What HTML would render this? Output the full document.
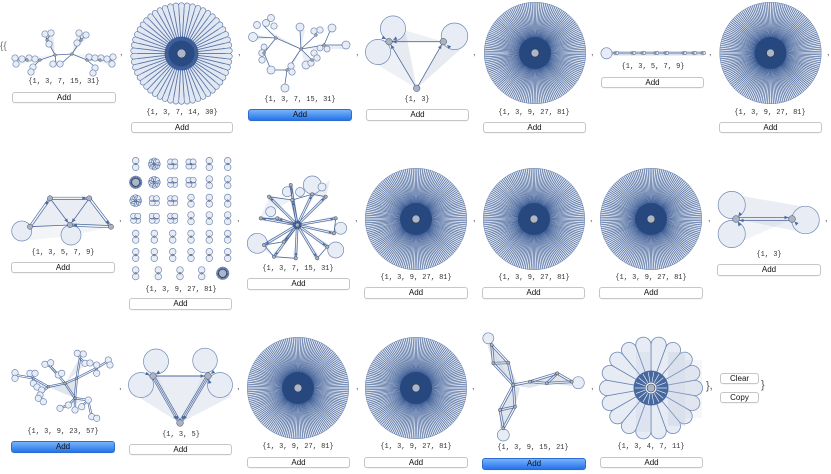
<!DOCTYPE html>
<html><head><meta charset="utf-8">
<style>
html,body{margin:0;padding:0;background:#fff;}
#w{position:relative;width:831px;height:474px;overflow:hidden;font-family:"Liberation Sans",sans-serif;background:#fff;}
svg{position:absolute;left:0;top:0;}
.l{position:absolute;font-family:"Liberation Mono",monospace;font-size:7px;line-height:8px;color:#333;white-space:pre;transform:translateX(-50%);}
.b{position:absolute;box-sizing:border-box;border:1px solid #c6c6c6;border-radius:3px;background:#fff;font-size:8px;text-align:center;color:#111;box-shadow:0 0.5px 0.5px rgba(0,0,0,0.08);}
.b.blue{background:linear-gradient(#78b4fb,#2673ea);border-color:#2d6cd0;}
.c{position:absolute;font-size:9px;line-height:9px;color:#555;}
</style></head><body><div id="w">
<svg id="s" width="831" height="474" viewBox="0 0 831 474"></svg>

<div class="c" style="left:0px;top:42px;font-size:10px;line-height:10px;color:#777;">{{</div>

<div class="c" style="left:120px;top:48px;">,</div>
<div class="c" style="left:238px;top:48px;">,</div>
<div class="c" style="left:356px;top:48px;">,</div>
<div class="c" style="left:473px;top:48px;">,</div>
<div class="c" style="left:591px;top:48px;">,</div>
<div class="c" style="left:709px;top:48px;">,</div>
<div class="c" style="left:827px;top:48px;">,</div>

<div class="c" style="left:119px;top:214px;">,</div>
<div class="c" style="left:237px;top:214px;">,</div>
<div class="c" style="left:355px;top:214px;">,</div>
<div class="c" style="left:473px;top:214px;">,</div>
<div class="c" style="left:590px;top:214px;">,</div>
<div class="c" style="left:708px;top:214px;">,</div>
<div class="c" style="left:825px;top:214px;">,</div>

<div class="c" style="left:119px;top:382px;">,</div>
<div class="c" style="left:237px;top:382px;">,</div>
<div class="c" style="left:356px;top:382px;">,</div>
<div class="c" style="left:472px;top:382px;">,</div>
<div class="c" style="left:591px;top:382px;">,</div>
<div class="c" style="left:706px;top:381px;font-size:11px;line-height:11px;">},</div>
<div class="c" style="left:761px;top:380px;font-size:11px;line-height:11px;">}</div>

<!-- labels row 1 -->
<div class="l" style="left:64px;top:78px;">{1, 3, 7, 15, 31}</div>
<div class="l" style="left:182px;top:109px;">{1, 3, 7, 14, 30}</div>
<div class="l" style="left:300px;top:96px;">{1, 3, 7, 15, 31}</div>
<div class="l" style="left:417px;top:96px;">{1, 3}</div>
<div class="l" style="left:534px;top:109px;">{1, 3, 9, 27, 81}</div>
<div class="l" style="left:653px;top:63px;">{1, 3, 5, 7, 9}</div>
<div class="l" style="left:770px;top:109px;">{1, 3, 9, 27, 81}</div>
<!-- labels row 2 -->
<div class="l" style="left:63px;top:249px;">{1, 3, 5, 7, 9}</div>
<div class="l" style="left:181px;top:286px;">{1, 3, 9, 27, 81}</div>
<div class="l" style="left:298px;top:265px;">{1, 3, 7, 15, 31}</div>
<div class="l" style="left:416px;top:274px;">{1, 3, 9, 27, 81}</div>
<div class="l" style="left:534px;top:274px;">{1, 3, 9, 27, 81}</div>
<div class="l" style="left:651px;top:274px;">{1, 3, 9, 27, 81}</div>
<div class="l" style="left:769px;top:251px;">{1, 3}</div>
<!-- labels row 3 -->
<div class="l" style="left:63px;top:428px;">{1, 3, 9, 23, 57}</div>
<div class="l" style="left:181px;top:431px;">{1, 3, 5}</div>
<div class="l" style="left:298px;top:443px;">{1, 3, 9, 27, 81}</div>
<div class="l" style="left:416px;top:443px;">{1, 3, 9, 27, 81}</div>
<div class="l" style="left:533px;top:444px;">{1, 3, 9, 15, 21}</div>
<div class="l" style="left:651px;top:443px;">{1, 3, 4, 7, 11}</div>

<!-- buttons row 1 -->
<div class="b" style="left:12px;top:92px;width:104px;height:11px;line-height:9px;">Add</div>
<div class="b" style="left:131px;top:122px;width:102px;height:11px;line-height:9px;">Add</div>
<div class="b blue" style="left:248px;top:109px;width:104px;height:12px;line-height:10px;">Add</div>
<div class="b" style="left:366px;top:109px;width:103px;height:12px;line-height:10px;">Add</div>
<div class="b" style="left:483px;top:122px;width:103px;height:11px;line-height:9px;">Add</div>
<div class="b" style="left:601px;top:77px;width:103px;height:11px;line-height:9px;">Add</div>
<div class="b" style="left:719px;top:122px;width:103px;height:11px;line-height:9px;">Add</div>
<!-- buttons row 2 -->
<div class="b" style="left:11px;top:262px;width:104px;height:11px;line-height:9px;">Add</div>
<div class="b" style="left:129px;top:298px;width:103px;height:12px;line-height:10px;">Add</div>
<div class="b" style="left:247px;top:278px;width:103px;height:12px;line-height:10px;">Add</div>
<div class="b" style="left:364px;top:287px;width:104px;height:12px;line-height:10px;">Add</div>
<div class="b" style="left:482px;top:287px;width:103px;height:12px;line-height:10px;">Add</div>
<div class="b" style="left:599px;top:287px;width:104px;height:12px;line-height:10px;">Add</div>
<div class="b" style="left:717px;top:264px;width:104px;height:12px;line-height:10px;">Add</div>
<!-- buttons row 3 -->
<div class="b blue" style="left:11px;top:441px;width:104px;height:12px;line-height:10px;">Add</div>
<div class="b" style="left:129px;top:444px;width:103px;height:11px;line-height:9px;">Add</div>
<div class="b" style="left:247px;top:457px;width:103px;height:11px;line-height:9px;">Add</div>
<div class="b" style="left:364px;top:457px;width:104px;height:11px;line-height:9px;">Add</div>
<div class="b blue" style="left:482px;top:458px;width:104px;height:12px;line-height:10px;">Add</div>
<div class="b" style="left:600px;top:457px;width:103px;height:11px;line-height:9px;">Add</div>
<div class="b" style="left:720px;top:373px;width:39px;height:11px;line-height:9px;">Clear</div>
<div class="b" style="left:720px;top:392px;width:39px;height:11px;line-height:9px;">Copy</div>
</div>
<script>
(function(){
var NS='http://www.w3.org/2000/svg';
var S=document.getElementById('s');
function E(t,a,p){var e=document.createElementNS(NS,t);for(var k in a)e.setAttribute(k,a[k]);(p||S).appendChild(e);return e;}
var EDGE='#4b6a9f',LOOPF='#e8edf5',LOOPS='#7189b5',NODEF='#a7b3c9';
function nd(x,y,r){E('circle',{cx:x,cy:y,r:r||1.8,fill:NODEF,stroke:'#444','stroke-width':0.5});}
function lp(x,y,r){E('circle',{cx:x,cy:y,r:r,fill:LOOPF,stroke:LOOPS,'stroke-width':0.7});}
function ln(x1,y1,x2,y2,w){E('line',{x1:x1,y1:y1,x2:x2,y2:y2,stroke:EDGE,'stroke-width':w||0.8});}
function dl(x1,y1,x2,y2,o){o=o||1.1;var dx=x2-x1,dy=y2-y1,L=Math.hypot(dx,dy),px=-dy/L*o,py=dx/L*o;ln(x1+px,y1+py,x2+px,y2+py,0.7);ln(x1-px,y1-py,x2-px,y2-py,0.7);}
function fan(pts,o){E('polygon',{points:pts.map(function(p){return p.join(',');}).join(' '),fill:'#b9c4d7','fill-opacity':o||0.3});}
function arr(x1,y1,x2,y2,rr,s){var dx=x2-x1,dy=y2-y1,L=Math.hypot(dx,dy),ux=dx/L,uy=dy/L;s=s||4;var w=s*0.45;
 var tx=x2-ux*rr,ty=y2-uy*rr,bx=tx-ux*s,by=ty-uy*s;
 E('polygon',{points:tx+','+ty+' '+(bx-uy*w)+','+(by+ux*w)+' '+(bx+uy*w)+','+(by-ux*w),fill:EDGE});}
function dense(cx,cy,R,N,ir,nr,lw,bg){
 N=N||162;ir=ir||16;nr=nr||4;lw=lw||0.6;bg=bg||'#dce3ee';
 E('circle',{cx:cx,cy:cy,r:R,fill:bg});
 var d='';
 for(var i=0;i<N;i++){var a=i*2*Math.PI/N;d+='M'+cx+','+cy+'L'+(cx+R*Math.cos(a)).toFixed(2)+','+(cy+R*Math.sin(a)).toFixed(2);}
 E('path',{d:d,stroke:'#3b5b94','stroke-width':lw,fill:'none'});
 E('circle',{cx:cx,cy:cy,r:R-0.3,fill:'none',stroke:'#6f88b5','stroke-width':0.5});
 E('circle',{cx:cx,cy:cy,r:ir,fill:'#27487f'});
 if(nr>0)E('circle',{cx:cx,cy:cy,r:nr,fill:'#aab6cc',stroke:'#333','stroke-width':0.6});
}
function petals(cx,cy,R,N,off,fill,stroke,sw){
 var a=Math.PI/N,sa=Math.sin(a),rt=R*sa/(1+sa),Rm=R-rt,beta=Math.asin(rt/Rm),L=Math.sqrt(Rm*Rm-rt*rt);
 for(var i=0;i<N;i++){var th=i*2*Math.PI/N+off;
  var x1=cx+L*Math.cos(th-beta),y1=cy+L*Math.sin(th-beta),x2=cx+L*Math.cos(th+beta),y2=cy+L*Math.sin(th+beta);
  E('path',{d:'M'+cx+','+cy+'L'+x1.toFixed(2)+','+y1.toFixed(2)+'A'+rt.toFixed(2)+','+rt.toFixed(2)+' 0 1 1 '+x2.toFixed(2)+','+y2.toFixed(2)+'Z',fill:fill,stroke:stroke,'stroke-width':sw});
 }
}

/* ---------- dense circles ---------- */
[[535,53],[770.5,53],[416,219],[534,219],[651,219],[298,388],[416,388]].forEach(function(c){dense(c[0],c[1],51);});

/* ---------- R1C2 flower ---------- */
(function(){var cx=181.5,cy=53.5;
 petals(cx,cy,51,54,-Math.PI/2,'#e2e8f2','#5672a6',0.6);
 var d='';for(var i=0;i<54;i++){var a=(i+0.5)*2*Math.PI/54-Math.PI/2;d+='M'+cx+','+cy+'L'+(cx+44*Math.cos(a)).toFixed(2)+','+(cy+44*Math.sin(a)).toFixed(2);}
 E('path',{d:d,stroke:'#5b77aa','stroke-width':0.9,fill:'none','stroke-opacity':0.8});
 E('circle',{cx:cx,cy:cy,r:17,fill:'#3f5f98'});
 E('circle',{cx:cx,cy:cy,r:13,fill:'#2a4a84'});
 E('circle',{cx:cx,cy:cy,r:4.5,fill:'#aab6cc',stroke:'#333','stroke-width':0.6});
})();

/* ---------- R3C6 daisy ---------- */
(function(){var cx=651,cy=388;
 petals(cx,cy,51.5,18,-Math.PI/2+Math.PI/18,'#e7ecf4','#6a85b4',0.8);
 E('rect',{x:636,y:352,width:14,height:80,fill:'#b9c4d7','fill-opacity':0.18});
 E('rect',{x:668,y:352,width:17,height:74,fill:'#b9c4d7','fill-opacity':0.28});
 E('rect',{x:685,y:360,width:17,height:58,fill:'#b9c4d7','fill-opacity':0.15});
 E('circle',{cx:cx,cy:cy,r:17.5,fill:'#47679f'});
 var d='';for(var i=0;i<18;i++){var a=i*2*Math.PI/18-Math.PI/2+Math.PI/18;d+='M'+(cx+6*Math.cos(a)).toFixed(2)+','+(cy+6*Math.sin(a)).toFixed(2)+'L'+(cx+16*Math.cos(a)).toFixed(2)+','+(cy+16*Math.sin(a)).toFixed(2);}
 E('path',{d:d,stroke:'#e8edf5','stroke-width':0.7,fill:'none'});
 E('circle',{cx:cx,cy:cy,r:5.5,fill:'#f2f5fa'});
 E('circle',{cx:cx,cy:cy,r:4,fill:'#aab6cc',stroke:'#333','stroke-width':0.6});
})();

/* ---------- R1C1 tree ---------- */
(function(){
 fan([[55,55],[43,34],[53,32]],0.4);fan([[72,54],[77,33],[89,35]],0.4);
 fan([[55,55],[14,58],[16,66]],0.2);fan([[72,54],[113,56],[112,66]],0.2);
 ln(55,55,72,54);ln(55,55,47,40);ln(72,54,81,40);ln(55,55,40,60);ln(40,60,27,60);ln(27,60,17,60);
 ln(72,54,87,60);ln(87,60,100,60);ln(100,60,112,60);ln(55,55,56,63);ln(72,54,62,63);ln(40,60,33,67);ln(87,60,95,67);
 ln(47,40,45,34);ln(47,40,51,33);ln(81,40,79,33);ln(81,40,86,35);
 [[15,58],[16,64],[22,59],[29,58],[35,59],[33,67],[31,72],[53,64],[60,64],[45,34],[51,33],[49,44],[79,33],[86,35],[77,43],
  [89,57],[95,58],[101,58],[107,59],[113,57],[112,64],[95,68],[93,73]].forEach(function(p){lp(p[0],p[1],3.2);});
 [[55,55],[72,54],[47,40],[81,40],[40,60],[27,60],[87,60],[100,60]].forEach(function(p){nd(p[0],p[1],1.3);});
})();

/* ---------- R1C3 tree ---------- */
(function(){
 var H=[301,49],A=[276,38],B=[324,45],F=[287,70],G=[271,70],I=[264,53],Ep=[312,60],C=[316,35],D=[300,30];
 fan([H,A,[268,30]],0.3);fan([H,B,[346,44],[345,49]],0.3);fan([H,Ep,[305,66]],0.3);fan([H,F,[290,72]],0.3);fan([H,D,[305,30]],0.3);
 fan([A,[253,34],[255,40]],0.3);
 [A,B,F,Ep,C,D].forEach(function(p){ln(H[0],H[1],p[0],p[1]);});
 ln(F[0],F[1],G[0],G[1]);ln(G[0],G[1],I[0],I[1]);ln(I[0],I[1],A[0],A[1]);ln(F[0],F[1],285,84);
 ln(A[0],A[1],257,37);ln(A[0],A[1],264,26);ln(B[0],B[1],342,45);ln(B[0],B[1],330,31);
 [[257,25,3.5],[266,23,3.5],[271,18,3.5],[274,26,3.2],[253,37,4.5],[262,53,3.3],[264,47,3],[262,60,3.2],[271,70,4],
  [300,27,4],[314,31,3.2],[320,30,3.2],[332,28,4],[346,45,4],[320,48,3],[327,49,3],
  [314,53,3.2],[317,58,3.2],[306,65,4],[311,63,3.2],[291,66,3.2],[292,72,3.2],[285,88,4]].forEach(function(p){lp(p[0],p[1],p[2]);});
 [H,A,B,F,I,Ep,C].forEach(function(p){nd(p[0],p[1],1.3);});
})();

/* ---------- R1C4 ---------- */
(function(){
 var L=[389,41.7],R=[443.3,41.7],B=[416.7,88.3];
 fan([B,L,[406,34]],0.35);fan([B,R,[462,48]],0.35);fan([L,R,[404,30]],0.25);fan([[366,58],L,B],0.25);
 lp(393,28.5,12.6);lp(378,52,12.6);lp(454.5,36.3,13.3);
 ln(B[0],B[1],L[0],L[1]);arr(B[0],B[1],L[0],L[1],3.5);
 ln(B[0],B[1],R[0],R[1]);arr(B[0],B[1],R[0],R[1],3.5);
 ln(R[0],R[1],L[0],L[1]);arr(R[0],R[1],L[0],L[1],3.5);
 arr(380,36,L[0],L[1]-1,3.5);arr(404,34,L[0]+1,L[1],3.5);arr(455,52,R[0]+1,R[1]+1,3.5);
 nd(L[0],L[1],3.3);nd(R[0],R[1],3.3);nd(B[0],B[1],3.3);
})();

/* ---------- R1C6 line graph ---------- */
(function(){
 E('rect',{x:611,y:51,width:93,height:4.5,fill:'#c9d3e4','fill-opacity':0.8});
 ln(606,53,704,53,0.8);
 lp(606.5,53.3,5.6);
 [615,632,642,655,665,683,693,702].forEach(function(x,i){lp(x+2,53,1.6);nd(x,53,1.2);});
})();

/* ---------- R2C1 ---------- */
(function(){
 var a=[30,226.7],b=[50,198.3],c=[89.3,198.3],d=[70,225],e=[111,226.7];
 fan([a,b,c,e,d],0.3);fan([a,[22,241],[70,236],e],0.18);
 lp(21.7,231,10);lp(71,235,10);
 dl(a[0],a[1],b[0],b[1]);dl(b[0],b[1],c[0],c[1]);dl(c[0],c[1],e[0],e[1]);dl(d[0],d[1],e[0],e[1]);
 ln(b[0],b[1],d[0],d[1]);ln(c[0],c[1],d[0],d[1]);ln(a[0],a[1],d[0],d[1]);
 arr(a[0],a[1],b[0],b[1],3);arr(b[0],b[1],c[0],c[1],3);arr(c[0],c[1],e[0],e[1],3);arr(e[0],e[1],d[0],d[1],3);arr(b[0],b[1],d[0],d[1],3);arr(c[0],c[1],d[0],d[1],3);
 [a,b,c,d,e].forEach(function(p){nd(p[0],p[1],2.6);});
})();

/* ---------- R2C2 grid ---------- */
(function(){
 var xs=[135.7,154.3,172.7,191,209.3,227.7],ys=[164,182.3,200.7,218.3,236.7,255];
 var T=[['8','f','c','c','8','8'],['d','f','c','c','8','8'],['f','c','c','8','8','8'],['c','c','c','8','8','8'],['8','8','8','8','8','8'],['8','8','8','8','8','8']];
 function fig8(x,y){lp(x,y-3.3,3.3);lp(x,y+3.3,3.3);nd(x,y,0.9);}
 function clover(x,y){for(var k=0;k<4;k++){var a=Math.PI/4+k*Math.PI/2;lp(x+3*Math.cos(a),y+3*Math.sin(a),3);}ln(x-4,y,x+4,y,0.6);nd(x,y,0.9);}
 function flower(x,y){for(var k=0;k<8;k++){var a=k*Math.PI/4;lp(x+3*Math.cos(a),y+3*Math.sin(a),3);}
   for(var k=0;k<8;k++){var a=k*Math.PI/4+Math.PI/8;ln(x,y,x+5.5*Math.cos(a),y+5.5*Math.sin(a),0.6);}nd(x,y,0.9);}
 function dd(x,y){dense(x,y,6.5,40,2.5,0,0.6);}
 for(var r=0;r<6;r++)for(var c=0;c<6;c++){var t=T[r][c],x=xs[c],y=ys[r];
  if(t=='8')fig8(x,y);else if(t=='c')clover(x,y);else if(t=='f')flower(x,y);else dd(x,y);}
 [135.7,158.3,180,201.7].forEach(function(x){fig8(x,273.3);});
 dd(222.7,273.3);
})();

/* ---------- R2C3 ---------- */
(function(){
 var H=[297.3,225];
 var N=[[292.3,200],[312.3,194.3],[269,196.7],[277.3,218.3],[260.7,218.3],[325.7,196.7],[335.7,218.3],[334,233.3],[327.3,246.7],[317.3,258.3],[295.7,258.3],[274,256.7],[264,245],[284,241.7],[290.7,185]];
 fan([[260,218],[270,196],[292,200]],0.25);fan([[264,245],[250,240],[274,257]],0.3);fan([[312,194],[330,180],[326,197]],0.3);
 N.forEach(function(p){var dx=p[0]-H[0],dy=p[1]-H[1],L=Math.hypot(dx,dy),px=-dy/L*2.6,py=dx/L*2.6;
   fan([H,[p[0]+px,p[1]+py],[p[0]-px,p[1]-py]],0.35);});
 lp(312.3,185,9);lp(257.3,243.3,10);lp(335.7,250,8);lp(340.7,228.3,6);lp(270.7,211.7,5);lp(287.3,191.7,5);lp(300,192,4.5);lp(322,187,4);
 N.forEach(function(p){dl(H[0],H[1],p[0],p[1],0.9);});
 ln(269,196.7,292.3,200);ln(292.3,200,312.3,194.3);ln(312.3,194.3,325.7,196.7);ln(260.7,218.3,277.3,218.3);ln(335.7,218.3,334,233.3);ln(327.3,246.7,317.3,258.3);ln(295.7,258.3,274,256.7);ln(274,256.7,264,245);ln(284,241.7,264,245);ln(290.7,185,292.3,200);
 N.forEach(function(p){arr(H[0],H[1],p[0],p[1],2.2,3);});
 E('circle',{cx:H[0],cy:H[1],r:4.5,fill:'#2f5190','fill-opacity':0.75});
 N.forEach(function(p){nd(p[0],p[1],1.7);});nd(H[0],H[1],2);
})();

/* ---------- R2C7 ---------- */
(function(){
 var L=[736,219],R=[792,219];
 fan([L,[742,196],[806,207],[806,233]],0.3);fan([L,[745,240],[792,219]],0.2);
 lp(731.7,205,13.6);lp(731.7,234,13.6);lp(805.5,220,13.8);
 ln(L[0],L[1]-1.5,R[0],R[1]-1.5,0.8);ln(L[0],L[1]+1.5,R[0],R[1]+1.5,0.8);
 arr(L[0],L[1]-1.5,R[0],R[1]-1.5,3.5);arr(R[0],R[1]+1.5,L[0],L[1]+1.5,3.5);
 arr(745,208,L[0],L[1],3.5);arr(744,232,L[0],L[1],3.5);arr(806,233,R[0],R[1],3.5);
 nd(L[0],L[1],3.4);nd(R[0],R[1],3.4);
})();

/* ---------- R3C1 tree ---------- */
(function(){
 var h1=[65,383.3],h2=[76.7,378.3],h3=[48.3,386.7],h4=[75,398.3];
 fan([h3,h1,h2,h4],0.45);fan([h1,[80,356.7],[85,365]],0.35);fan([h3,[33,378],[40,395]],0.3);fan([h4,[60,408],[88,400]],0.35);
 var E2=[[h3,h1],[h1,h2],[h1,h4],[h2,h4],[h3,[33.3,378.3]],[[33.3,378.3],[15,375]],[[33.3,378.3],[30,373.3]],[[33.3,378.3],[33.3,383.3]],
  [h1,[50,366]],[[50,366],[45,364.3]],[[50,366],[58.3,375]],[h2,[80,358]],[[80,358],[77.3,353.3]],[[80,358],[85,363.3]],[h2,[96.7,368]],[[96.7,368],[108.3,361]],[[96.7,368],[96.7,373.3]],
  [h3,[41.7,392]],[[41.7,392],[38.3,398.3]],[h4,[68.3,405]],[[68.3,405],[60,408.3]],[h4,[88,400]],[[88,400],[91.7,416.7]],[[88,400],[81.7,406.7]],[h4,[75,410]]];
 E2.forEach(function(e){dl(e[0][0],e[0][1],e[1][0],e[1][1],0.8);});
 [[15,372.7],[15,378.3],[30,373.3],[35,373.3],[33.3,383.3],[37,387],[45,364.3],[50.7,362.7],[58.3,375],[61.7,373.3],
  [77.3,353.3],[83.3,354],[85,363.3],[90,363],[96.7,365],[108.3,360],[110,365],[96.7,373.3],
  [41.7,390],[40,395],[38.3,398.3],[43.3,401.7],[60,408.3],[68.3,405],[75,410],[81.7,406.7],[88.3,400],[91.7,416.7],[96.7,418.3]].forEach(function(p){lp(p[0],p[1],3.2);});
 [h1,h2,h3,h4].forEach(function(p){nd(p[0],p[1],1.3);});
})();

/* ---------- R3C2 ---------- */
(function(){
 var a=[153,376],b=[208,376],c=[180,423];
 fan([a,b,c],0.3);fan([[140,398],a,c],0.3);fan([[232,396],b,c],0.3);fan([[146,350],a,c],0.15);fan([[214,350],b,c],0.15);
 lp(156,361.5,12.5);lp(141,385,12.5);lp(205,360.5,12.3);lp(220,385,12.5);
 dl(a[0],a[1],c[0],c[1],1.5);ln(a[0],a[1],c[0],c[1],0.7);
 dl(b[0],b[1],c[0],c[1],1.5);ln(b[0],b[1],c[0],c[1],0.7);
 ln(a[0],a[1],b[0],b[1],0.9);arr(a[0],a[1],b[0],b[1],3.5);
 arr(a[0],a[1],c[0],c[1],3.5);arr(b[0],b[1],c[0],c[1],3.5);arr(a[0]+2,a[1],c[0]-2,c[1],3.5);arr(b[0]-2,b[1],c[0]+2,c[1],3.5);
 arr(142,372,a[0],a[1],3.5);arr(166,368,a[0],a[1],3.5);arr(216,370,b[0],b[1],3.5);arr(212,392,b[0],b[1],3.5);
 nd(a[0],a[1],3.3);nd(b[0],b[1],3.3);nd(c[0],c[1],3.3);
})();

/* ---------- R3C5 ---------- */
(function(){
 var p1=[491.7,345],p2=[493.3,363.3],p3=[508.3,362.7],p4=[513.3,385],p5=[530,381.7],p6=[546.7,383.3],p7=[557.3,373.3],p8=[571.7,381.7],p9=[515,406.7],p10=[500,410],p11=[503.3,428.3];
 fan([[486,340],p1,p3,[518,385],p4,p2],0.45);fan([p4,p5,p7,p8,[572,386],p6,[530,388]],0.45);fan([p4,[520,388],p9,p11,[500,428],p10],0.45);
 fan([[489,342],[512,384],[497,362]],0.3);
 lp(488.3,338.3,5.5);lp(503.3,435,6);lp(578.3,382.7,6);
 [[p1,p2],[p2,p3],[p1,p3],[p3,p4],[p2,p4],[p4,p5],[p5,p6],[p6,p7],[p7,p8],[p6,p8],[p5,p7],[p4,p9],[p9,p10],[p10,p11],[p9,p11],[p4,p10]].forEach(function(e){dl(e[0][0],e[0][1],e[1][0],e[1][1],1);});
 [p1,p2,p3,p4,p5,p6,p7,p8,p9,p10,p11].forEach(function(p){nd(p[0],p[1],1.6);});
})();
})();
</script>
</body></html>
